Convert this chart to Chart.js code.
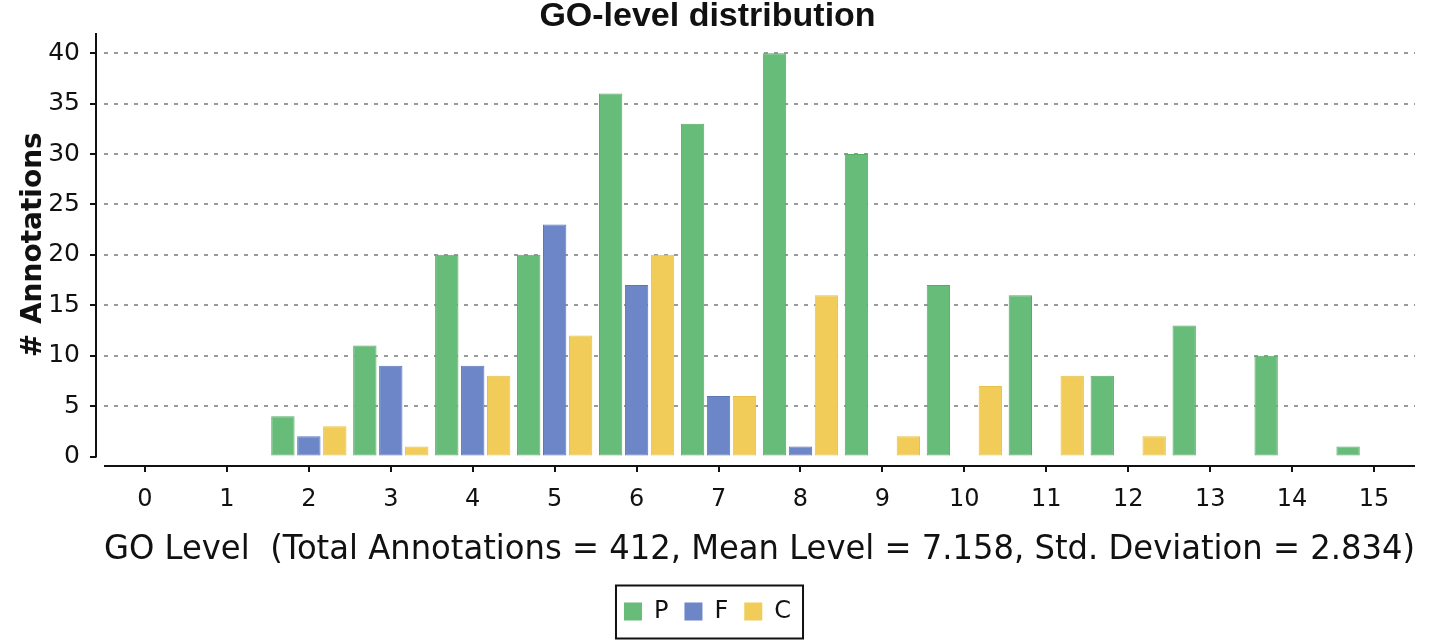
<!DOCTYPE html>
<html><head><meta charset="utf-8">
<script src="https://cdn.jsdelivr.net/npm/chart.js@4.4.1/dist/chart.umd.min.js"></script>
<style>html,body{margin:0;padding:0;background:#fff;} #wrap{width:1429px;height:643px;position:relative;}</style>
</head><body><div id="wrap"><canvas id="c"></canvas></div>
<script>
const levels = ['0','1','2','3','4','5','6','7','8','9','10','11','12','13','14','15'];
const seriesP = [0,0,4,11,20,20,36,33,40,30,17,16,8,13,10,1];
const seriesF = [0,0,2,9,9,23,17,6,1,0,0,0,0,0,0,0];
const seriesC = [0,0,3,1,8,12,20,6,16,2,7,8,2,0,0,0];
const yTickValues = [0,5,10,15,20,25,30,35,40];
const seriesNames = ['P','F','C'];
const chartTitle = 'GO-level distribution';
const xTitle = 'GO Level  (Total Annotations = 412, Mean Level = 7.158, Std. Deviation = 2.834)';
const yTitle = '# Annotations';

const DV = "'DejaVu Sans', Verdana, sans-serif";
const ink = '#111';

const axesPlugin = {
  id: 'axesBox',
  afterDraw(chart) {
    const {ctx, chartArea: a, scales: {x, y}} = chart;
    ctx.save();
    ctx.strokeStyle = ink;
    ctx.lineWidth = 2;
    const yx = a.left - 8;
    ctx.beginPath();
    ctx.moveTo(yx, a.top); ctx.lineTo(yx, a.bottom + 1);
    y.ticks.forEach(t => { const py = Math.round(y.getPixelForValue(t.value)); ctx.moveTo(yx - 6, py); ctx.lineTo(yx, py); });
    ctx.stroke();
    const xy = Math.round(a.bottom + 9);
    ctx.beginPath();
    ctx.moveTo(a.left, xy); ctx.lineTo(a.right, xy);
    x.ticks.forEach((t, i) => { const px = Math.round(x.getPixelForTick(i)); ctx.moveTo(px, xy); ctx.lineTo(px, xy + 6); });
    ctx.stroke();
    const hb = chart.legend && chart.legend.legendHitBoxes;
    if (hb && hb.length) {
      const l = Math.min(...hb.map(b => b.left)) - 8;
      const r = Math.max(...hb.map(b => b.left + b.width)) + 12;
      const t = Math.min(...hb.map(b => b.top)) - 14;
      const bt = Math.max(...hb.map(b => b.top + b.height)) + 15;
      ctx.lineWidth = 2;
      ctx.strokeRect(l, t, r - l, bt - t);
    }
    ctx.restore();
  }
};

const mk = (label, data, bg, bd) => ({
  label, data, backgroundColor: bg, borderColor: bd,
  borderWidth: c => (c.raw ? 1 : 0), borderSkipped: false,
  categoryPercentage: 0.95, barPercentage: 0.9
});

new Chart(document.getElementById('c'), {
  type: 'bar',
  data: {
    labels: levels,
    datasets: [
      mk(seriesNames[0], seriesP, '#68bc79', '#58aa68'),
      mk(seriesNames[1], seriesF, '#6d86c8', '#5d76b6'),
      mk(seriesNames[2], seriesC, '#f1cc58', '#e6c04a')
    ]
  },
  plugins: [axesPlugin],
  options: {
    responsive: true, maintainAspectRatio: false, animation: false,
    layout: { padding: { left: 0, right: 14, top: 0, bottom: 9.5 } },
    plugins: {
      tooltip: { enabled: false },
      title: {
        display: true, text: chartTitle, color: ink,
        font: { family: "'Liberation Sans', Arial, sans-serif", size: 34, weight: 'bold', lineHeight: 1 },
        padding: { top: 0, bottom: -1 }
      },
      legend: {
        position: 'bottom',
        labels: {
          color: ink, boxWidth: 18, boxHeight: 18, padding: 16,
          font: { family: DV, size: 24 }
        }
      }
    },
    scales: {
      x: {
        afterFit(s) { s.height = 127; },
        grid: { display: false, drawTicks: false },
        border: { display: false },
        ticks: { color: ink, font: { family: DV, size: 24 }, padding: 29, maxRotation: 0, autoSkip: false },
        title: { display: true, text: xTitle, color: ink, font: { family: DV, size: 33 }, padding: { top: 17, bottom: 13 } }
      },
      y: {
        min: 0, max: 42,
        afterFit(s) { s.width = 104; s.paddingTop = 10; s.paddingBottom = 10; },
        afterBuildTicks(s) { s.ticks = yTickValues.map(v => ({ value: v })); },
        grid: {
          drawTicks: false, lineWidth: 2,
          color: c => (c.tick && c.tick.value === 0 ? 'rgba(0,0,0,0)' : '#9a9a9a')
        },
        border: { display: false, dash: [4, 6] },
        ticks: { color: ink, font: { family: DV, size: 25 }, padding: 24 },
        title: { display: true, text: yTitle, color: ink, font: { family: DV, size: 28, weight: 'bold' }, padding: { top: 17, bottom: 0 } }
      }
    }
  }
});
</script></body></html>
